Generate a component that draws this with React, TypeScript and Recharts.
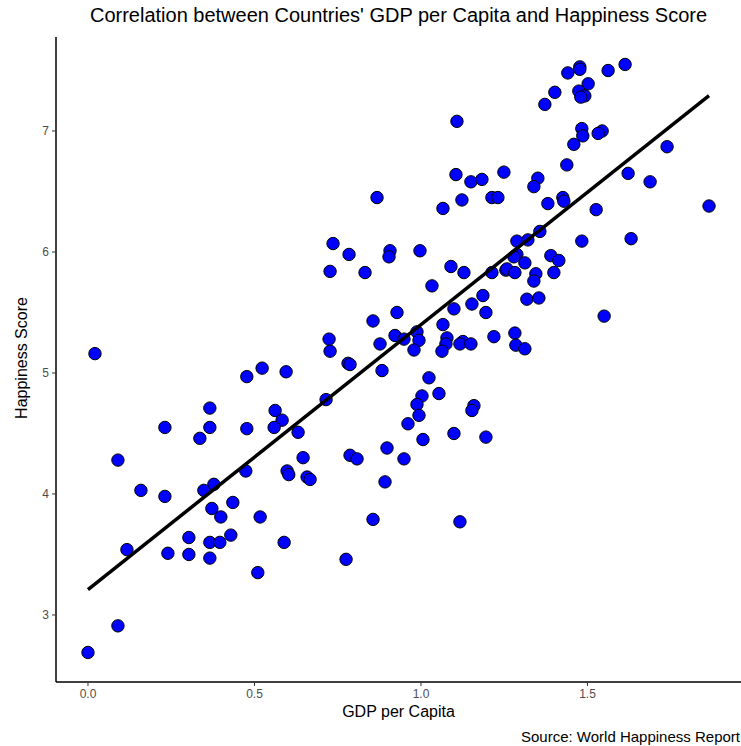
import { ScatterChart, Scatter, XAxis, YAxis } from "recharts";

// GDP per capita (x) and happiness score (y)
const gdpPerCapita = [
  0.021, 0.477, 0.523, 0.595, 0.366, 0.562, 0.583, 0.231, 0.366, 0.336,
  0.477, 0.559, 0.631, 0.09, 0.474, 0.598, 0.603, 0.159, 0.231, 0.378,
  0.348, 0.435, 0.372, 0.399, 0.517, 0.117, 0.303, 0.24, 0.303, 0.366,
  0.396, 0.429, 0.366, 0.589, 0.51, 0.09, 0.0,
  0.736, 0.784, 0.907, 0.904, 0.997, 0.727, 0.832, 1.09, 1.129, 1.033,
  1.213, 1.255, 1.186, 1.153, 1.195, 1.099, 0.928, 0.856, 1.066, 0.724,
  0.727, 0.922, 0.949, 0.988, 0.994, 0.877, 0.979, 1.078, 1.075, 1.063,
  1.126, 1.117, 1.15, 1.219, 0.781, 0.787, 0.883, 1.024, 1.054, 1.003,
  0.988, 0.994, 1.159, 1.153, 0.715,
  0.961, 1.006, 1.099, 1.195, 0.646, 0.787, 0.808, 0.898, 0.949, 0.658,
  0.667, 0.892, 0.856, 1.117, 0.775,
  1.477, 1.477, 1.441, 1.562, 1.613, 1.502, 1.402, 1.474, 1.492, 1.48,
  1.372, 1.483, 1.486, 1.459, 1.544, 1.532, 1.739, 1.438, 1.622, 1.688,
  1.249, 1.351, 1.339, 1.426, 1.429, 1.381, 1.526, 1.865, 1.288, 1.321,
  1.357, 1.483, 1.631,
  1.288, 1.279, 1.312, 1.39, 1.414, 1.258, 1.282, 1.345, 1.339, 1.399,
  1.318, 1.354, 1.55, 1.282, 1.285, 1.312,
  1.108, 1.105, 1.15, 1.183, 0.868, 1.123, 1.066, 1.213, 1.231,
];

const happinessScore = [
  5.16, 4.97, 5.04, 5.01, 4.71, 4.69, 4.61, 4.55, 4.55, 4.46,
  4.54, 4.55, 4.51, 4.28, 4.19, 4.19, 4.16, 4.03, 3.98, 4.08,
  4.03, 3.93, 3.88, 3.81, 3.81, 3.54, 3.64, 3.51, 3.5, 3.6,
  3.6, 3.66, 3.47, 3.6, 3.35, 2.91, 2.69,
  6.07, 5.98, 6.01, 5.96, 6.01, 5.84, 5.83, 5.88, 5.83, 5.72,
  5.83, 5.85, 5.64, 5.57, 5.5, 5.53, 5.5, 5.43, 5.4, 5.28,
  5.18, 5.31, 5.28, 5.34, 5.27, 5.24, 5.19, 5.29, 5.24, 5.18,
  5.26, 5.24, 5.24, 5.3, 5.08, 5.07, 5.02, 4.96, 4.83, 4.81,
  4.74, 4.65, 4.73, 4.69, 4.78,
  4.58, 4.45, 4.5, 4.47, 4.3, 4.32, 4.29, 4.38, 4.29, 4.14,
  4.12, 4.1, 3.79, 3.77, 3.46,
  7.53, 7.51, 7.48, 7.5, 7.55, 7.39, 7.32, 7.33, 7.29, 7.28,
  7.22, 7.02, 6.96, 6.89, 7.0, 6.98, 6.87, 6.72, 6.65, 6.58,
  6.66, 6.61, 6.54, 6.45, 6.42, 6.4, 6.35, 6.38, 6.09, 6.1,
  6.17, 6.09, 6.11,
  5.98, 5.96, 5.91, 5.97, 5.93, 5.86, 5.83, 5.82, 5.76, 5.83,
  5.61, 5.62, 5.47, 5.33, 5.23, 5.2,
  7.08, 6.64, 6.58, 6.6, 6.45, 6.43, 6.36, 6.45, 6.45,
];

const xTicks = [0, 0.5, 1.0, 1.5];
const yTicks = [3, 4, 5, 6, 7];

const points = gdpPerCapita.map((g, i) => ({ x: g, y: happinessScore[i] }));

// least squares fit, like geom_smooth(method = "lm")
const n = points.length;
const meanX = gdpPerCapita.reduce((s, v) => s + v, 0) / n;
const meanY = happinessScore.reduce((s, v) => s + v, 0) / n;
let sxy = 0;
let sxx = 0;
points.forEach((p) => {
  sxy += (p.x - meanX) * (p.y - meanY);
  sxx += (p.x - meanX) ** 2;
});
const slope = sxy / sxx;
const intercept = meanY - slope * meanX;
const minX = Math.min(...gdpPerCapita);
const maxX = Math.max(...gdpPerCapita);
const fitLine = [
  { x: minX, y: intercept + slope * minX },
  { x: maxX, y: intercept + slope * maxX },
];

const font = "'Liberation Sans', Arial, sans-serif";

const Dot = (props: any) => (
  <circle cx={props.cx} cy={props.cy} r={6.2} fill="#0000ff" stroke="#000" strokeWidth={1} />
);

export default function App() {
  return (
    <div style={{ position: "absolute", left: 0, top: 0, width: 741, height: 746, fontFamily: font, background: "#fff" }}>
      <div style={{ position: "absolute", top: 4, left: 56, width: 685, textAlign: "center", fontSize: 20, color: "#000" }}>
        Correlation between Countries' GDP per Capita and Happiness Score
      </div>
      <ScatterChart width={741} height={746} margin={{ top: 37, right: 0, bottom: 34, left: 0 }}>
        <XAxis
          type="number"
          dataKey="x"
          domain={[-0.096, 1.961]}
          ticks={xTicks}
          tickFormatter={(v: number) => v.toFixed(1)}
          allowDataOverflow
          height={30}
          tickSize={4}
          tickMargin={3}
          axisLine={{ stroke: "#000", strokeWidth: 1.5 }}
          tickLine={{ stroke: "#333" }}
          tick={{ fill: "#4d4d4d", fontSize: 12, fontFamily: font }}
        />
        <YAxis
          type="number"
          dataKey="y"
          domain={[2.446, 7.777]}
          ticks={yTicks}
          allowDataOverflow
          width={56}
          tickSize={4}
          tickMargin={3}
          axisLine={{ stroke: "#000", strokeWidth: 1.5 }}
          tickLine={{ stroke: "#333" }}
          tick={{ fill: "#4d4d4d", fontSize: 12, fontFamily: font }}
        />
        <Scatter data={points} shape={Dot} isAnimationActive={false} />
        <Scatter
          data={fitLine}
          line={{ stroke: "#000", strokeWidth: 3.5 }}
          shape={() => <g />}
          isAnimationActive={false}
        />
      </ScatterChart>
      <div style={{ position: "absolute", top: 703, left: 56, width: 685, textAlign: "center", fontSize: 16, color: "#000" }}>
        GDP per Capita
      </div>
      <div
        style={{
          position: "absolute",
          left: 22,
          top: 358,
          transform: "translate(-50%, -50%) rotate(-90deg)",
          whiteSpace: "nowrap",
          fontSize: 16,
          color: "#000",
        }}
      >
        Happiness Score
      </div>
      <div style={{ position: "absolute", top: 728, right: 1, fontSize: 15, color: "#000" }}>
        Source: World Happiness Report
      </div>
    </div>
  );
}
